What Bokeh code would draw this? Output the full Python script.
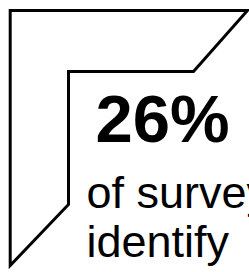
from bokeh.plotting import figure
from bokeh.embed import file_html
from bokeh.resources import INLINE
from bokeh.core.properties import value

# Data
frame_x = [9.7, 247, 193, 68, 68, 9.7]
frame_y = [10, 10, 71, 71, 204, 265]
stat_label = ["26%"]
caption_lines = ["of surveyed", "identify"]

W, H = 249, 272
p = figure(width=W, height=H, x_range=(0, W), y_range=(H, 0),
           output_backend="svg", toolbar_location=None, min_border=0)
p.axis.visible = False
p.grid.visible = False
p.outline_line_color = None
p.background_fill_color = "white"
p.border_fill_color = "white"

p.patch(frame_x, frame_y, fill_color="white", line_color="black", line_width=3,
        line_join="miter")

STAT_SIZE, CAP_SIZE = 67, 45
MID = 0.3465
p.text(x=[95], y=[141 - MID * STAT_SIZE], text=stat_label,
       text_font=value("Liberation Sans"), text_font_size=f"{STAT_SIZE}px",
       text_font_style="bold", text_color="black",
       text_baseline="middle", text_align="left")

p.text(x=[86, 86], y=[208 - MID * CAP_SIZE, 257 - MID * CAP_SIZE], text=caption_lines,
       text_font=value("Liberation Sans"), text_font_size=f"{CAP_SIZE}px",
       text_color="black", text_baseline="middle", text_align="left")

open("out.html", "w").write(file_html(p, INLINE))
